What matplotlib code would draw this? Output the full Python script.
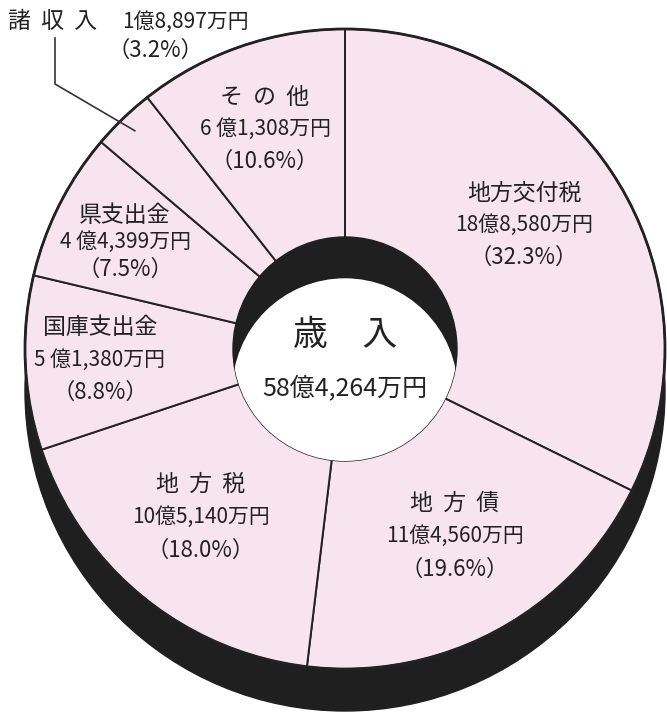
import numpy as np
import matplotlib
matplotlib.use("Agg")
import matplotlib.pyplot as plt
from matplotlib.patches import Circle

plt.rcParams['font.family'] = ['Noto Sans CJK JP', 'DejaVu Sans']

# data (clockwise from the top)
names = ['地方交付税', '地  方  債', '地  方  税', '国庫支出金', '県支出金', '諸  収  入', 'そ  の  他']
amounts = ['18億8,580万円', '11億4,560万円', '10億5,140万円', '5 億1,380万円',
           '4 億4,399万円', '1億8,897万円', '6 億1,308万円']
shares = [32.3, 19.6, 18.0, 8.8, 7.5, 3.2, 10.6]
total_label = '58億4,264万円'

# layout (pixel coords, y down)
W, H = 667, 712
cx, cy = 345, 349
R, r_in, depth = 320, 112, 42
pink = '#f7e4ee'
dark = '#1f1f1f'
label_pos = [(524, 193, 32), (455, 503, 33), (201, 484, 33), (100, 328, 32),
             (125, 215, 27), None, (265, 97, 32)]

fig = plt.figure(figsize=(W / 100, H / 100), dpi=100)
ax = fig.add_axes([0, 0, 1, 1])
ax.set_xlim(0, W)
ax.set_ylim(H, 0)
ax.axis('off')

# side of the ring (depth)
ax.add_patch(Circle((cx, cy + depth), R, color=dark, zorder=1))

# top face: y axis is inverted, so counterclock=True reads clockwise on screen
ax.pie(shares, colors=[pink] * len(shares), startangle=-90, counterclock=True,
       center=(cx, cy), radius=R,
       wedgeprops=dict(edgecolor='#222222', linewidth=1.4, zorder=2))
for w in ax.patches[1:]:
    w.set_zorder(2)
ax.add_patch(Circle((cx, cy), R, fill=False, edgecolor='#222222', linewidth=2, zorder=3))
ax.set_xlim(0, W)
ax.set_ylim(H, 0)
ax.set_aspect('equal')

# hole: inner wall then see-through opening
inner = Circle((cx, cy), r_in, color=dark, zorder=4)
ax.add_patch(inner)
hole = Circle((cx, cy + depth), r_in, color='white', zorder=5)
ax.add_patch(hole)
hole.set_clip_path(inner)

tc = '#222222'
fs_name, fs_amt, fs_pct = 16.5, 15, 16
for i, pos in enumerate(label_pos):
    if pos is None:
        continue
    x, y, step = pos
    lines = [(names[i], fs_name), (amounts[i], fs_amt), (f'（{shares[i]:.1f}%）', fs_pct)]
    for k, (s, f) in enumerate(lines):
        ax.text(x, y + k * step, s, ha='center', va='center', fontsize=f, color=tc, zorder=6)

# small slice label outside with a leader line
i = 5
start = sum(shares[:i]) / 100 * 360
mid = np.deg2rad(start + shares[i] / 100 * 360 / 2)
ex, ey = cx - 303 * np.sin(2 * np.pi - mid), cy - 303 * np.cos(2 * np.pi - mid)
ax.text(8, 22, names[i], ha='left', va='center', fontsize=fs_name, color=tc, zorder=6)
ax.text(122, 22, amounts[i], ha='left', va='center', fontsize=fs_amt, color=tc, zorder=6)
ax.text(155, 50, f'（{shares[i]:.1f}%）', ha='center', va='center', fontsize=fs_pct, color=tc, zorder=6)
ax.plot([55, 55, ex], [38, 84, ey], color='#333333', linewidth=1.2, zorder=6)

# centre text
ax.text(cx, 336, '歳　入', ha='center', va='center', fontsize=25, color=tc, zorder=6)
ax.text(cx, 388, total_label, ha='center', va='center', fontsize=18, color=tc, zorder=6)

fig.savefig('out.png', dpi=100, facecolor='white')
